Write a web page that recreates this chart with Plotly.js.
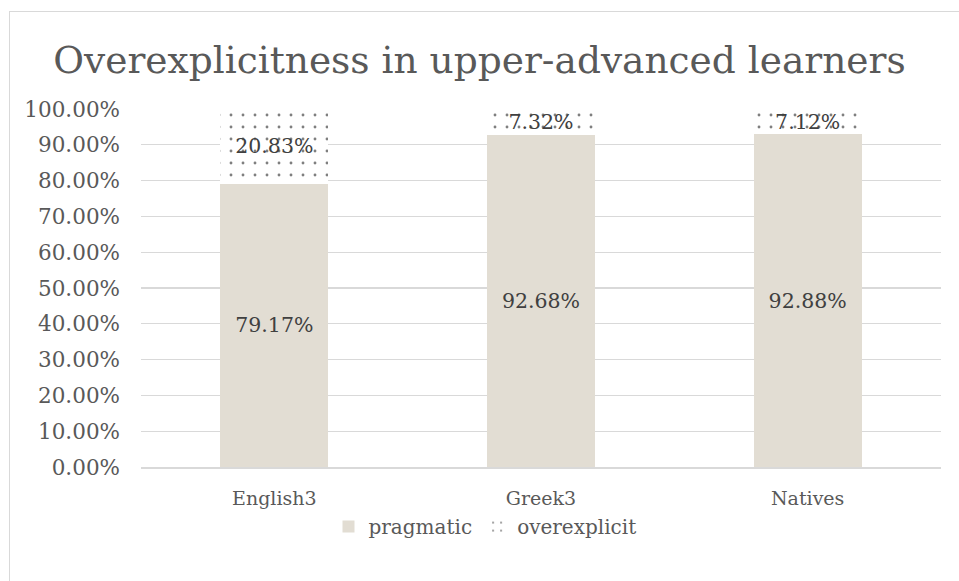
<!DOCTYPE html>
<html><head><meta charset="utf-8">
<script src="https://cdn.plot.ly/plotly-3.0.1.min.js"></script>
<style>
html,body{margin:0;padding:0;background:#fff;}
#frame{position:absolute;left:9px;top:11px;width:960px;height:580px;border-left:1.5px solid #d9d9d9;border-top:1.5px solid #d9d9d9;box-sizing:border-box;}
#chart{position:absolute;left:0;top:0;width:959px;height:581px;}
</style></head>
<body>
<div id="frame"></div>
<div id="chart"></div>
<script>
const categories = ["English3", "Greek3", "Natives"];
const pragmatic = [79.17, 92.68, 92.88];
const overexplicit = [20.83, 7.32, 7.12];
const seriesNames = ["pragmatic", "overexplicit"];

const font = "DejaVu Serif, serif";
const traces = [
  {
    type: "bar", name: seriesNames[0], x: categories, y: pragmatic,
    marker: {color: "#e2ddd3"},
    texttemplate: "%{y:.2f}%", textposition: "inside", insidetextanchor: "middle", constraintext: "none",
    textfont: {family: font, size: 20.5, color: "#404040"}
  },
  {
    type: "bar", name: seriesNames[1], x: categories, y: overexplicit,
    marker: {color: "#ffffff", pattern: {shape: ".", bgcolor: "#ffffff", fgcolor: "#000000", size: 12, solidity: 0.045, fillmode: "overlay"}},
    texttemplate: "%{y:.2f}%", textposition: "inside", insidetextanchor: "middle", constraintext: "none",
    textfont: {family: font, size: 20.5, color: "#404040"}
  }
];
const layout = {
  width: 959, height: 581,
  paper_bgcolor: "rgba(0,0,0,0)", plot_bgcolor: "rgba(0,0,0,0)",
  barmode: "stack", bargap: 0.595,
  margin: {l: 141, r: 18, t: 109, b: 114},
  title: {text: "Overexplicitness in upper-advanced learners", x: 0.5, xref: "container", y: 0.897, yref: "container", yanchor: "middle",
    font: {family: font, size: 37.5, color: "#595959"}},
  xaxis: {tickfont: {family: font, size: 19, color: "#595959"}, showline: true, linecolor: "#d9d9d9", linewidth: 1.5, ticks: "", ticklabelstandoff: 14},
  yaxis: {range: [0, 100], dtick: 10, ticksuffix: "%", tickformat: ".2f",
    tickfont: {family: font, size: 21.5, color: "#595959"}, gridcolor: "#d9d9d9", gridwidth: 1.3, zeroline: false, ticklabelstandoff: 20},
  legend: {orientation: "h", x: 0.43, xanchor: "center", y: -0.112, yanchor: "top",
    font: {family: font, size: 20, color: "#595959"}, traceorder: "normal", itemwidth: 30},
  showlegend: true
};
Plotly.newPlot("chart", traces, layout, {displayModeBar: false, staticPlot: true});
</script>
</body></html>
